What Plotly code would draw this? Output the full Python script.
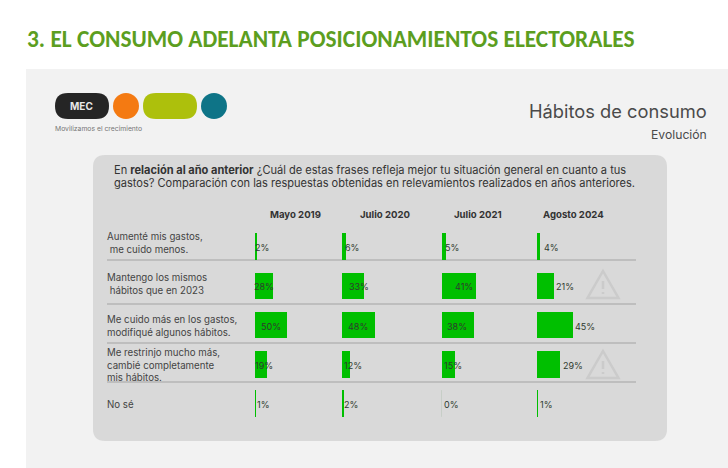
import plotly.graph_objects as go

W = 728
H = 468

# Data
periods = ["Mayo 2019", "Julio 2020", "Julio 2021", "Agosto 2024"]
answers = [
    "Aumenté mis gastos,<br>&nbsp;me cuido menos.",
    "Mantengo los mismos<br>&nbsp;hábitos que en 2023",
    "Me cuido más en los gastos,<br>modifiqué algunos hábitos.",
    "Me restrinjo mucho más,<br>cambié completamente<br>mis hábitos.",
    "No sé",
]
mayo_2019 = [2, 28, 50, 19, 1]
julio_2020 = [6, 33, 48, 12, 2]
julio_2021 = [5, 41, 38, 15, 0]
agosto_2024 = [4, 21, 45, 29, 1]
series = [mayo_2019, julio_2020, julio_2021, agosto_2024]

# Each column of the slide was drawn at its own scale
col_left = [255, 342, 441.5, 537]
col_px_per_pct = [0.63, 0.68, 0.84, 0.80]
col_header_x = [295, 385, 478, 573]
# where each value label sits, pixels from the end of its bar
label_shift = [
    [6, -9, -16, -3, 8],
    [6, -5, -17, 3, 8],
    [6, -12, -16, -1, 10],
    [11, 11, 12, 13, 9],
]
# the first two row labels sit above the middle of their row
answer_nudge = [-5, -3, 0, 0, 0]

FONT = "Inter"
GREEN = "#00bf00"
DARK = "#3a3a3a"


def px(x):
    return x / W


def py(y):
    return 1 - y / H


def rect(x0, y0, x1, y1, color):
    return dict(type="rect", xref="paper", yref="paper", x0=px(x0), x1=px(x1),
                y0=py(y0), y1=py(y1), fillcolor=color, line_width=0, layer="below")


def rounded(x0, y0, x1, y1, r, color):
    # rounded box built on pixel coordinates
    def p(x, y):
        return f"{px(x)},{py(y)}"
    path = (f"M {p(x0 + r, y0)} L {p(x1 - r, y0)} Q {p(x1, y0)} {p(x1, y0 + r)} "
            f"L {p(x1, y1 - r)} Q {p(x1, y1)} {p(x1 - r, y1)} "
            f"L {p(x0 + r, y1)} Q {p(x0, y1)} {p(x0, y1 - r)} "
            f"L {p(x0, y0 + r)} Q {p(x0, y0)} {p(x0 + r, y0)} Z")
    return dict(type="path", xref="paper", yref="paper", path=path,
                fillcolor=color, line_width=0, layer="below")


def circle(x0, y0, x1, y1, color):
    return dict(type="circle", xref="paper", yref="paper", x0=px(x0), x1=px(x1),
                y0=py(y0), y1=py(y1), fillcolor=color, line_width=0, layer="below")


def warning(cx, top, w, h):
    def p(x, y):
        return f"{px(x)},{py(y)}"
    tri = f"M {p(cx, top)} L {p(cx + w / 2, top + h)} L {p(cx - w / 2, top + h)} Z"
    mark = f"M {p(cx, top + 10)} L {p(cx, top + h - 9)}"
    dot = f"M {p(cx, top + h - 6)} L {p(cx, top + h - 4)}"
    return [dict(type="path", xref="paper", yref="paper", path=d,
                 line=dict(color="#cbcbcb", width=2.5), layer="above")
            for d in (tri, mark, dot)]


def text(x, y, s, size=10, color=DARK, anchor="left", family=FONT):
    return dict(xref="paper", yref="paper", x=px(x), y=py(y), text=s, showarrow=False,
                xanchor=anchor, yanchor="middle", align=anchor,
                font=dict(family=family, size=size, color=color))


fig = go.Figure()

shapes = [
    rect(26, 69, W, H, "#f2f2f2"),
    rounded(93, 155, 667, 441, 12, "#d9d9d9"),
    # logo
    rounded(55, 93, 109, 119, 13, "#252525"),
    circle(113, 93, 139, 119, "#f47a12"),
    rounded(143, 93, 197, 119, 13, "#adc00c"),
    circle(201, 93, 227, 119, "#0e7487"),
]

# row separators
for y in (260, 304, 343, 382):
    shapes.append(dict(type="line", xref="paper", yref="paper", x0=px(107), x1=px(636),
                       y0=py(y), y1=py(y), line=dict(color="#a3a3a3", width=1.2),
                       layer="below"))

shapes += warning(603, 271, 31, 27)
shapes += warning(603, 351, 31, 27)

annotations = [
    text(25, 39, "<b>3. EL CONSUMO ADELANTA POSICIONAMIENTOS ELECTORALES</b>",
         size=23.4, color="#5c9e1f", family="Carlito, Lato"),
    text(81.5, 106, "<b>MEC</b>", size=10, color="#e8e8e8", anchor="center"),
    text(53, 128, "Movilizamos el crecimiento", size=6.8, color="#777777"),
    text(709, 111, "Hábitos de consumo", size=18.3, color="#4a4a4a", anchor="right"),
    text(709, 134, "Evolución", size=12.2, color="#4a4a4a", anchor="right"),
    text(112, 170, "En <b>relación al año anterior</b> ¿Cuál de estas frases refleja mejor "
         "tu situación general en cuanto a tus", size=11.05, color="#333333"),
    text(112, 183, "gastos? Comparación con las respuestas obtenidas en relevamientos "
         "realizados en años anteriores.", size=11.05, color="#333333"),
]

for i, vals in enumerate(series):
    axis = "x" if i == 0 else f"x{i + 1}"
    fig.add_trace(go.Bar(
        x=vals,
        y=list(range(len(answers))),
        orientation="h",
        width=0.68,
        marker=dict(color=GREEN, line_width=0),
        xaxis=axis,
        yaxis="y",
        showlegend=False,
        hoverinfo="skip",
    ))
    span = 90
    left = col_left[i]
    fig.layout[f"xaxis{'' if i == 0 else i + 1}"] = dict(
        domain=[px(left), px(left + span)],
        range=[0, span / col_px_per_pct[i]],
        anchor="y",
        visible=False,
        fixedrange=True,
    )
    annotations.append(text(col_header_x[i], 215, f"<b>{periods[i]}</b>", size=9.6,
                            color="#333333", anchor="center"))
    for row, v in enumerate(vals):
        annotations.append(dict(
            xref=axis, yref="y", x=v, y=row, text=f"{v}%", showarrow=False,
            xshift=label_shift[i][row], yshift=-1,
            font=dict(family=FONT, size=9, color="#2f3a2f"),
        ))
        if v == 0:
            # a zero bar draws nothing, the slide keeps a faint tick there
            shapes.append(dict(type="line", xref=axis, yref="y", x0=0, x1=0,
                               y0=row - 0.34, y1=row + 0.34,
                               line=dict(color="#b5c4b5", width=1)))

for row, label in enumerate(answers):
    annotations.append(dict(
        xref="paper", yref="y", x=px(105), y=row, text=label, showarrow=False,
        xanchor="left", align="left", yshift=-1 - answer_nudge[row],
        font=dict(family=FONT, size=9.7, color="#444444"),
    ))

fig.update_layout(
    width=W,
    height=H,
    margin=dict(l=0, r=0, t=0, b=0),
    paper_bgcolor="white",
    plot_bgcolor="rgba(0,0,0,0)",
    yaxis=dict(domain=[py(423.1), py(226.9)], range=[4.5, -0.5], visible=False,
               fixedrange=True),
    shapes=shapes,
    annotations=annotations,
    bargap=0,
)

# page margin would push the slide 8px off
fig.write_html("out.html", config={"displayModeBar": False},
               post_script="document.body.style.margin='0';")
